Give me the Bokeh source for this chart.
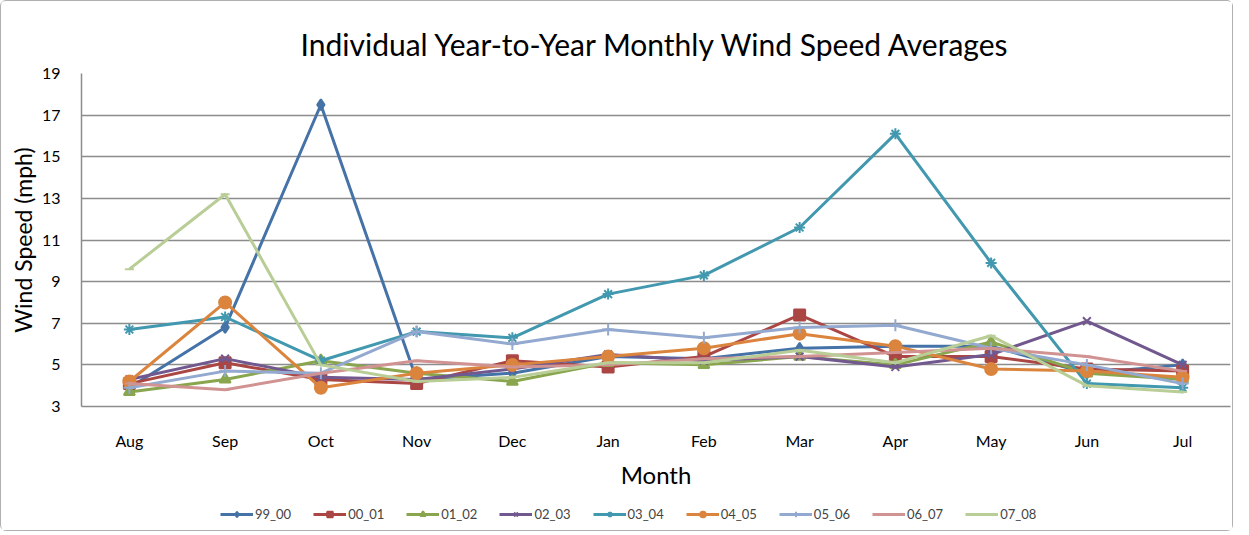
from bokeh.plotting import figure
from bokeh.models import Legend, FactorRange, Range1d, FixedTicker
from bokeh.layouts import column
from bokeh.embed import file_html
from bokeh.resources import INLINE

months = ["Aug", "Sep", "Oct", "Nov", "Dec", "Jan", "Feb", "Mar", "Apr", "May", "Jun", "Jul"]

s99_00 = [3.9, 6.8, 17.5, 4.3, 4.6, 5.4, 5.3, 5.8, 5.9, 5.9, 4.6, 5.0]
s00_01 = [4.1, 5.1, 4.3, 4.1, 5.2, 4.9, 5.4, 7.4, 5.4, 5.4, 4.8, 4.7]
s01_02 = [3.7, 4.3, 5.2, 4.6, 4.2, 5.1, 5.0, 5.4, 5.0, 6.1, 4.6, 4.3]
s02_03 = [4.3, 5.3, 4.4, 4.3, 4.8, 5.5, 5.2, 5.4, 4.9, 5.5, 7.1, 5.0]
s03_04 = [6.7, 7.3, 5.2, 6.6, 6.3, 8.4, 9.3, 11.6, 16.1, 9.9, 4.1, 3.9]
s04_05 = [4.2, 8.0, 3.9, 4.6, 5.0, 5.4, 5.8, 6.5, 5.9, 4.8, 4.7, 4.4]
s05_06 = [3.9, 4.7, 4.6, 6.6, 6.0, 6.7, 6.3, 6.8, 6.9, 5.8, 5.0, 4.1]
s06_07 = [4.1, 3.8, 4.6, 5.2, 4.9, 5.0, 5.3, 5.4, 5.6, 5.8, 5.4, 4.7]
s07_08 = [9.6, 13.2, 5.0, 4.2, 4.4, 5.1, 5.1, 5.7, 5.1, 6.4, 4.0, 3.7]

series_names = ["99_00", "00_01", "01_02", "02_03", "03_04", "04_05", "05_06", "06_07", "07_08"]
series_values = [s99_00, s00_01, s01_02, s02_03, s03_04, s04_05, s05_06, s06_07, s07_08]
colors = ["#4572A7", "#AA4643", "#89A54E", "#71588F", "#4198AF", "#DB843D", "#93A9CF", "#D19392", "#B9CD96"]
markers = ["diamond", "square", "triangle", "x", "asterisk", "circle", "cross", "dash", "dash"]
msizes = [11, 11, 11, 11, 11, 12, 12, 9, 9]

y_ticks = [3, 5, 7, 9, 11, 13, 15, 17, 19]

FONT = "Lato"

p = figure(
    width=1231, height=499,
    x_range=FactorRange(*months, range_padding=0),
    y_range=Range1d(3, 19),
    output_backend="svg", toolbar_location=None,
    title="Individual Year-to-Year Monthly Wind Speed Averages",
    min_border_left=80, min_border_right=2, min_border_top=72, min_border_bottom=94,
)
p.x_range.factor_padding = 0
p.x_range.range_padding = 0

p.title.align = "center"
p.title.text_font = FONT
p.title.text_font_size = "30px"
p.title.text_font_style = "normal"
p.title.text_color = "#000000"
p.title.standoff = 24

p.outline_line_color = None
p.background_fill_color = "white"
p.border_fill_color = "white"

p.xgrid.grid_line_color = None
p.ygrid.grid_line_color = "#8c8c8c"
p.ygrid.grid_line_width = 1.5
p.yaxis.ticker = FixedTicker(ticks=y_ticks)

for ax in (p.xaxis, p.yaxis):
    ax.axis_line_color = "#8c8c8c"
    ax.axis_line_width = 1.5
    ax.major_tick_line_color = None
    ax.minor_tick_line_color = None
    ax.major_label_text_font = FONT
    ax.major_label_text_font_size = "16px"
    ax.major_label_text_color = "#000000"
    ax.axis_label_text_font = FONT
    ax.axis_label_text_font_style = "normal"
    ax.axis_label_text_color = "#000000"

p.xaxis.axis_label = "Month"
p.xaxis.axis_label_text_font_size = "24px"
p.xaxis.major_label_standoff = 18
p.xaxis.axis_label_standoff = 7
p.yaxis.axis_label = "Wind Speed (mph)"
p.yaxis.axis_label_text_font_size = "23px"
p.yaxis.major_label_standoff = 15
p.yaxis.axis_label_standoff = 2

for name, vals, c, m, ms in zip(series_names, series_values, colors, markers, msizes):
    p.line(months, vals, line_color=c, line_width=3)
    p.scatter(months, vals, marker=m, size=ms, fill_color=c, line_color=c, line_width=2)

# legend strip below the chart: same series drawn with the same styles,
# but with a y range that keeps the marks themselves out of view
pl = figure(width=1231, height=30, x_range=FactorRange(*months),
            y_range=Range1d(100, 101),
            output_backend="svg", toolbar_location=None, min_border=0)
pl.axis.visible = False
pl.grid.visible = False
pl.outline_line_color = None
pl.background_fill_color = "white"
pl.border_fill_color = "white"

items = []
for name, vals, c, m, ms in zip(series_names, series_values, colors, markers, msizes):
    r1 = pl.line(months, vals, line_color=c, line_width=3)
    r2 = pl.scatter(months, vals, marker=m, size=ms, fill_color=c, line_color=c, line_width=2)
    items.append((name, [r1, r2]))

legend = Legend(items=items, orientation="horizontal", location=(139, 8),
                label_text_font=FONT, label_text_font_size="13px",
                glyph_width=33, glyph_height=14, label_standoff=2, spacing=22,
                border_line_color=None, background_fill_alpha=0, padding=2, margin=0)
pl.add_layout(legend, "center")

layout = column(p, pl, spacing=0)
layout.styles = {"border": "1px solid #b0b0b0", "border-radius": "6px"}

open("out.html", "w").write(file_html(layout, INLINE))
